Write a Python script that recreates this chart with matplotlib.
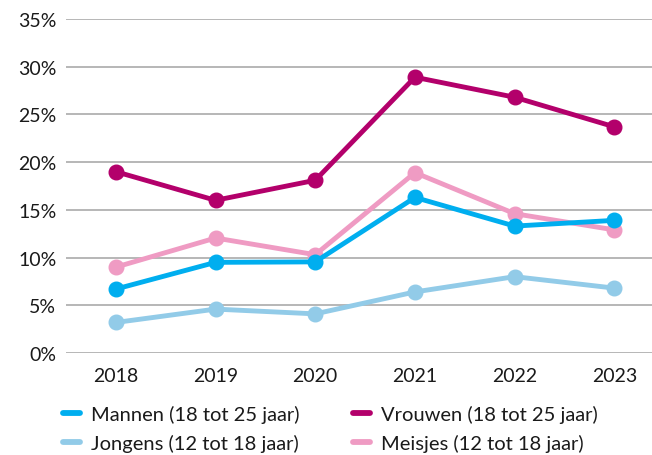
import matplotlib.pyplot as plt
from matplotlib.lines import Line2D

years = [2018, 2019, 2020, 2021, 2022, 2023]
mannen = [6.7, 9.5, 9.55, 16.3, 13.3, 13.9]
vrouwen = [19.0, 16.0, 18.1, 28.9, 26.8, 23.7]
jongens = [3.2, 4.6, 4.1, 6.4, 8.0, 6.8]
meisjes = [9.0, 12.05, 10.3, 18.9, 14.6, 12.9]
yticks = [0, 5, 10, 15, 20, 25, 30, 35]

series = [
    ("Mannen (18 tot 25 jaar)", mannen, "#00aeef"),
    ("Jongens (12 tot 18 jaar)", jongens, "#92cbe8"),
    ("Vrouwen (18 tot 25 jaar)", vrouwen, "#b3006b"),
    ("Meisjes (12 tot 18 jaar)", meisjes, "#ef9bc3"),
]
draw_order = [1, 3, 0, 2]

plt.rcParams["font.family"] = ["Lato", "DejaVu Sans"]

fig = plt.figure(figsize=(6.52, 4.56), dpi=100)
ax = fig.add_axes([66 / 652, 1 - 354 / 456, 586 / 652, 334 / 456])

for i in draw_order:
    label, vals, color = series[i]
    ax.plot(years, vals, color=color, lw=3.5, marker="o", ms=10.5,
            solid_capstyle="round", solid_joinstyle="round", zorder=3)

ax.set_xlim(2017.5, 2017.5 + 586 / 99.7)
ax.set_ylim(0, 35)
ax.set_yticks(yticks)
ax.set_yticklabels([f"{v}%" for v in yticks])
ax.set_xticks(years)
ax.grid(axis="y", color="#aaaaaa", lw=1.2, zorder=0)
for s in ax.spines.values():
    s.set_visible(False)
ax.tick_params(length=0, labelsize=14, colors="#1a1a1a")
ax.tick_params(axis="y", pad=7)
ax.tick_params(axis="x", pad=10)

# two legend columns, each placed on its own
for col, x0 in enumerate([63, 353]):
    items = series[col * 2:col * 2 + 2]
    handles = [Line2D([], [], color=c, lw=4.2, solid_capstyle="round") for _, _, c in items]
    labels = [l for l, _, _ in items]
    fig.legend(handles, labels, loc="upper left", bbox_to_anchor=(x0 / 652, 1 - 406 / 456),
               frameon=False, fontsize=14.5, handlelength=0.85, handletextpad=0.55,
               labelspacing=0.55, borderpad=0, borderaxespad=0, labelcolor="#1a1a1a")

fig.savefig("out.png", dpi=100)
